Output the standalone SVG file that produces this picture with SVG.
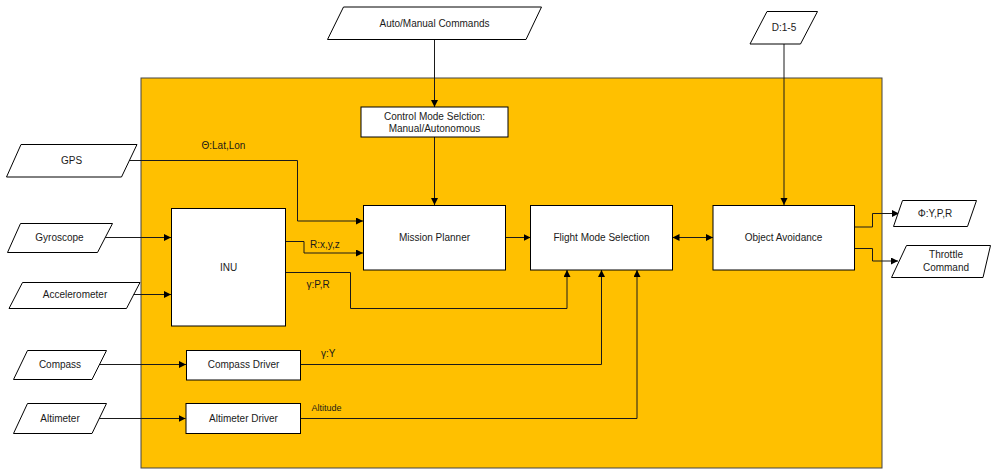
<svg xmlns="http://www.w3.org/2000/svg" width="991" height="469" viewBox="0 0 991 469">
<style>
.bx{fill:#fff;stroke:#000;stroke-width:1}
.io{fill:#fff;stroke:#000;stroke-width:1}
.t{font-family:"Liberation Sans",Arial,sans-serif;font-size:10px;fill:#1a1a1a;text-anchor:middle;dominant-baseline:central}
.l{font-family:"Liberation Sans",Arial,sans-serif;font-size:10px;fill:#1a1a1a;dominant-baseline:central}
.c{fill:none;stroke:#1a1a1a;stroke-width:1}
</style>
<defs>
<marker id="a" markerUnits="userSpaceOnUse" markerWidth="8" markerHeight="8" refX="7" refY="3.5" orient="auto">
<path d="M0,0 L7,3.5 L0,7 z" fill="#000"/>
</marker>
<marker id="s" markerUnits="userSpaceOnUse" markerWidth="8" markerHeight="8" refX="0" refY="3.5" orient="auto">
<path d="M7,0 L0,3.5 L7,7 z" fill="#000"/>
</marker>
</defs>
<rect id="system" x="141" y="78" width="741" height="390" fill="#FFC000" stroke="#444" stroke-width="1"/>
<g id="connectors">
<path class="c" d="M434.5 39.5 V107" marker-end="url(#a)"/>
<path class="c" d="M434.5 137 V205" marker-end="url(#a)"/>
<path class="c" d="M784 44 V205" marker-end="url(#a)"/>
<path class="c" d="M129 160.5 H297.5 V221 H363" marker-end="url(#a)"/>
<path class="c" d="M104.5 237.5 H171" marker-end="url(#a)"/>
<path class="c" d="M133 294.5 H171" marker-end="url(#a)"/>
<path class="c" d="M285.5 241.5 H304 V253 H363" marker-end="url(#a)"/>
<path class="c" d="M285.5 272.5 H350.5 V308.5 H567 V270" marker-end="url(#a)"/>
<path class="c" d="M99 364.5 H186" marker-end="url(#a)"/>
<path class="c" d="M300.5 364.5 H601.5 V270" marker-end="url(#a)"/>
<path class="c" d="M99 418.5 H185.5" marker-end="url(#a)"/>
<path class="c" d="M300.5 418.5 H637 V270" marker-end="url(#a)"/>
<path class="c" d="M505.5 237.5 H530.5" marker-end="url(#a)"/>
<path class="c" d="M672.5 237.5 H713" marker-start="url(#s)" marker-end="url(#a)"/>
<path class="c" d="M854.5 227 H872.5 V213.5 H899" marker-end="url(#a)"/>
<path class="c" d="M854.5 248.5 H872.5 V261 H898" marker-end="url(#a)"/>
<text class="l" x="201.5" y="145">Θ:Lat,Lon</text>
<text class="l" x="310" y="244">R:x,y,z</text>
<text class="l" x="306.5" y="284">γ:P,R</text>
<text class="l" x="321" y="353">γ:Y</text>
<text class="l" x="311.5" y="408" style="font-size:9px">Altitude</text>
</g>
<g id="auto-manual">
<polygon class="io" points="343.5,7 541.5,7 526,39.5 327.5,39.5"/>
<text class="t" x="434.5" y="23.5">Auto/Manual Commands</text>
</g>
<g id="d15">
<polygon class="io" points="767,11.5 817.5,11.5 800.5,44 750,44"/>
<text class="t" x="784" y="27.5">D:1-5</text>
</g>
<g id="control-mode">
<rect class="bx" x="361" y="107" width="147" height="30"/>
<text class="t" x="434.5" y="116.5">Control Mode Selction:</text>
<text class="t" x="434.5" y="128.5">Manual/Autonomous</text>
</g>
<g id="gps">
<polygon class="io" points="21,144.5 137,144.5 121.5,177 6.5,177"/>
<text class="t" x="71.5" y="160.5">GPS</text>
</g>
<g id="gyroscope">
<polygon class="io" points="20.5,223.5 112.5,223.5 97.5,252.5 7.5,252.5"/>
<text class="t" x="59.5" y="237.5">Gyroscope</text>
</g>
<g id="accelerometer">
<polygon class="io" points="22.5,282.5 140,282.5 126.5,308.5 9,308.5"/>
<text class="t" x="75" y="294.5">Accelerometer</text>
</g>
<g id="compass">
<polygon class="io" points="27.5,350.5 106.5,350.5 92,379.5 13.5,379.5"/>
<text class="t" x="60" y="364.5">Compass</text>
</g>
<g id="altimeter">
<polygon class="io" points="27.5,403.5 106.5,403.5 92,433.5 13.5,433.5"/>
<text class="t" x="60" y="418.5">Altimeter</text>
</g>
<g id="inu">
<rect class="bx" x="171.5" y="208.5" width="114" height="117.5"/>
<text class="t" x="228.5" y="267">INU</text>
</g>
<g id="mission-planner">
<rect class="bx" x="363.5" y="205.5" width="142" height="64.5"/>
<text class="t" x="434.5" y="237.5">Mission Planner</text>
</g>
<g id="flight-mode">
<rect class="bx" x="530.5" y="205.5" width="142" height="64.5"/>
<text class="t" x="601.5" y="237.5">Flight Mode Selection</text>
</g>
<g id="object-avoidance">
<rect class="bx" x="713" y="205.5" width="141.5" height="64.5"/>
<text class="t" x="783.5" y="237.5">Object Avoidance</text>
</g>
<g id="compass-driver">
<rect class="bx" x="186.5" y="350.5" width="114" height="29.5"/>
<text class="t" x="243.5" y="364.5">Compass Driver</text>
</g>
<g id="altimeter-driver">
<rect class="bx" x="186" y="403.5" width="114.5" height="30"/>
<text class="t" x="243.5" y="418.5">Altimeter Driver</text>
</g>
<g id="phi-out">
<polygon class="io" points="902.5,200.5 976.5,200.5 967.5,226.5 893.5,226.5"/>
<text class="t" x="935" y="213.5">Φ:Y,P,R</text>
</g>
<g id="throttle-out">
<polygon class="io" points="906.5,245.5 990.5,245.5 983,277.5 891.5,277.5"/>
<text class="t" x="946" y="254.5">Throttle</text>
<text class="t" x="946" y="267.5">Command</text>
</g>
</svg>
